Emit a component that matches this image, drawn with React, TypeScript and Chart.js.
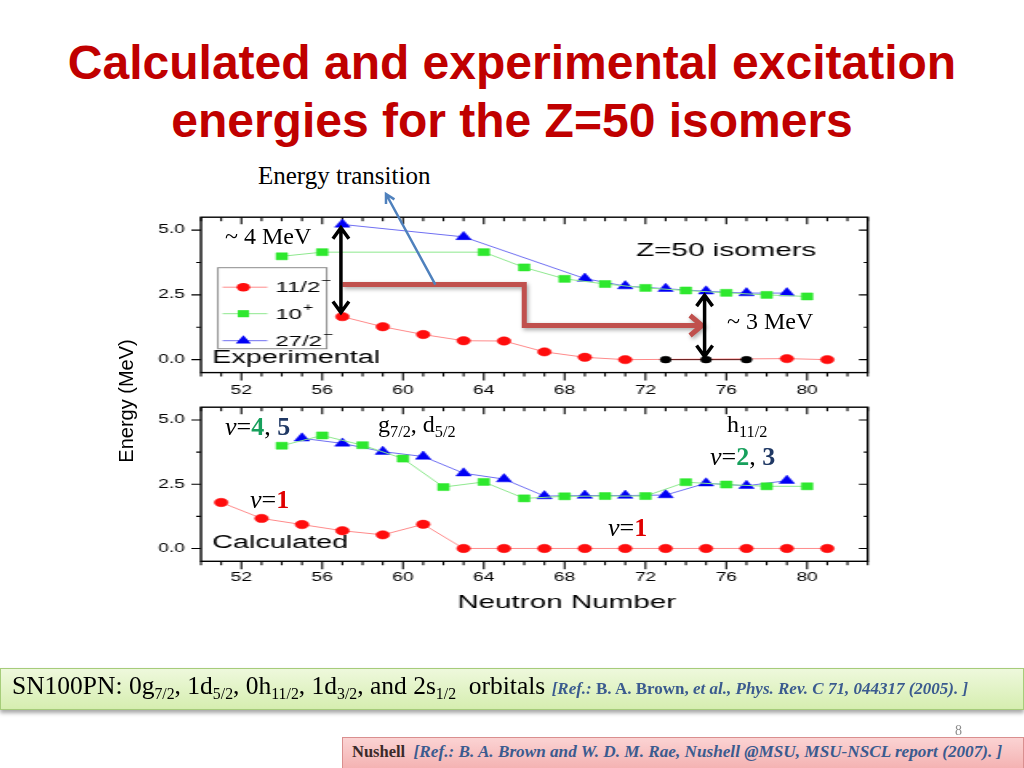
import React, { useEffect, useRef } from 'react';
import { Chart, registerables } from 'chart.js';
Chart.register(...registerables);

// ---------- data ----------
// Experimental
const expN_11 = [57, 59, 61, 63, 65, 67, 69, 71, 79, 81];
const expE_11 = [1.66, 1.27, 0.97, 0.73, 0.72, 0.3, 0.09, 0.0, 0.04, 0.0];
const expN_gs = [73, 75, 77];
const expE_gs = [0.0, 0.0, 0.0];
const expN_10 = [54, 56, 64, 66, 68, 70, 72, 74, 76, 78, 80];
const expE_10 = [3.99, 4.15, 4.15, 3.56, 3.12, 2.92, 2.77, 2.67, 2.58, 2.5, 2.44];
const expN_27 = [57, 63, 69, 71, 73, 75, 77, 79];
const expE_27 = [5.22, 4.74, 3.13, 2.84, 2.74, 2.64, 2.57, 2.57];
// Calculated
const calN_11 = [51, 53, 55, 57, 59, 61, 63, 65, 67, 69, 71, 73, 75, 77, 79, 81];
const calE_11 = [1.79, 1.17, 0.93, 0.69, 0.53, 0.94, 0, 0, 0, 0, 0, 0, 0, 0, 0, 0];
const calN_10 = [54, 56, 58, 60, 62, 64, 66, 68, 70, 72, 74, 76, 78, 80];
const calE_10 = [4.0, 4.4, 4.02, 3.5, 2.39, 2.59, 1.95, 2.03, 2.04, 2.04, 2.58, 2.49, 2.42, 2.42];
const calN_27 = [55, 57, 59, 61, 63, 65, 67, 69, 71, 73, 75, 77, 79];
const calE_27 = [4.29, 4.09, 3.77, 3.58, 2.93, 2.7, 2.04, 2.06, 2.06, 2.08, 2.54, 2.44, 2.64];

const xTicks = [52, 56, 60, 64, 68, 72, 76, 80];
const xMinorTicks = [50, 51, 52, 53, 54, 55, 56, 57, 58, 59, 60, 61, 62, 63, 64, 65, 66, 67, 68, 69, 70, 71, 72, 73, 74, 75, 76, 77, 78, 79, 80, 81, 82, 83];
const yTicks = [0, 2.5, 5.0];
const yMinorTicks = [0, 1.25, 2.5, 3.75, 5.0];
const legendLabels: [string, string][] = [['11/2', '\u2212'], ['10', '+'], ['27/2', '\u2212']];
const xAxisTitle = 'Neutron Number';

// annotation anchors (data coordinates of the top panel)
const arrow4 = { n: 57, from: 5.13, to: 1.78 };
const arrow3 = { n: 75, from: 2.53, to: 0.08 };
const stepN = [57, 66, 66, 74.8];
const stepE = [2.9, 2.9, 1.32, 1.32];
const pointerStart = { n: 61.6, e: 2.9 };

// ---------- styling ----------
const S = 1.6; // horizontal stretch of the embedded chart picture
const SANS = "'Liberation Sans', Arial, Helvetica, sans-serif";
const SERIF = "'Liberation Serif', 'Times New Roman', Times, serif";

const TOP = { left: 121, top: 200, w: 490, h: 200, yAxisW: 50, padTop: 12.7, padRight: 23.3, xAxisH: 27.4, tickPad: 10.5 };
const BOT = { left: 121, top: 390, w: 490, h: 240, yAxisW: 50, padTop: 11.7, padRight: 23.3, xAxisH: 68.7, tickPad: 9 };

const ST: Record<string, { line: string; fill: string; shape: string; r: number }> = {
  red: { line: '#ff8a8a', fill: '#ff0d0d', shape: 'circle', r: 4.2 },
  black: { line: '#5a1010', fill: '#000000', shape: 'circle', r: 3.4 },
  green: { line: '#8ee88e', fill: '#2ee82e', shape: 'rect', r: 5 },
  blue: { line: '#6f6ff2', fill: '#0000f5', shape: 'triangle', r: 5.5 },
};

function pts(xs: number[], ys: number[]) {
  return xs.map((x, i) => ({ x, y: ys[i] }));
}
function series(label: string, xs: number[], ys: number[], kind: string) {
  const st = ST[kind];
  return {
    label,
    data: pts(xs, ys),
    borderColor: st.line,
    borderWidth: 1,
    pointStyle: st.shape,
    pointRadius: st.r,
    pointBackgroundColor: st.fill,
    pointBorderColor: st.fill,
    pointBorderWidth: 0.5,
    tension: 0,
    fill: false,
    clip: false,
    _kind: kind,
  } as any;
}

function drawMarker(ctx: CanvasRenderingContext2D, kind: string, x: number, y: number) {
  const st = ST[kind];
  const r = st.r;
  ctx.fillStyle = st.fill;
  ctx.beginPath();
  if (st.shape === 'circle') ctx.arc(x, y, r, 0, Math.PI * 2);
  else if (st.shape === 'rect') {
    const h = r * Math.SQRT1_2;
    ctx.rect(x - h, y - h, 2 * h, 2 * h);
  } else {
    const a = (2 * Math.PI) / 3;
    ctx.moveTo(x, y - r);
    ctx.lineTo(x + r * Math.sin(a), y - r * Math.cos(a));
    ctx.lineTo(x + r * Math.sin(2 * a), y - r * Math.cos(2 * a));
    ctx.closePath();
  }
  ctx.fill();
}

const framePlugin = {
  id: 'frame',
  beforeDatasetsDraw(chart: any) {
    const { ctx, chartArea: a, scales } = chart;
    const x = scales.x, y = scales.y;
    ctx.save();
    ctx.strokeStyle = '#000';
    ctx.lineWidth = 1.4;
    ctx.strokeRect(a.left, a.top, a.right - a.left, a.bottom - a.top);
    ctx.lineWidth = 1.1;
    ctx.beginPath();
    for (const n of xMinorTicks) {
      const px = x.getPixelForValue(n);
      const major = xTicks.includes(n);
      ctx.moveTo(px, a.bottom);
      ctx.lineTo(px, a.bottom + (major ? 8 : 4));
      ctx.moveTo(px, a.top);
      ctx.lineTo(px, a.top + (major ? 7 : 4));
    }
    for (const v of yMinorTicks) {
      const py = y.getPixelForValue(v);
      const major = yTicks.includes(v);
      ctx.moveTo(a.left, py);
      ctx.lineTo(a.left - (major ? 6 : 3), py);
      ctx.moveTo(a.right, py);
      ctx.lineTo(a.right - (major ? 5.5 : 2.5), py);
    }
    ctx.stroke();
    ctx.restore();
  },
  afterDatasetsDraw(chart: any, _args: any, opts: any) {
    const { ctx, chartArea: a, scales } = chart;
    ctx.save();
    ctx.fillStyle = '#000';
    ctx.textBaseline = 'middle';
    ctx.textAlign = 'left';
    ctx.font = `18px ${SANS}`;
    ctx.fillText(opts.label, a.left + 7, a.bottom - opts.labelDy);
    if (opts.note) {
      ctx.textAlign = 'center';
      ctx.font = `18.5px ${SANS}`;
      ctx.fillText(opts.note, scales.x.getPixelForValue(76), scales.y.getPixelForValue(4.2));
    }
    if (opts.axisTitle) {
      ctx.textAlign = 'center';
      ctx.font = `18.5px ${SANS}`;
      ctx.fillText(opts.axisTitle, scales.x.getPixelForValue(68.1), a.bottom + 41.5);
    }
    if (opts.legend) {
      const bx = a.left + 10.6, by = a.top + 50.5, bw = 68, bh = 81;
      ctx.strokeStyle = '#8c8c8c';
      ctx.lineWidth = 1;
      ctx.strokeRect(bx, by, bw, bh);
      const rows = [a.top + 70, a.top + 96.5, a.top + 123.5];
      const dss = chart.data.datasets.filter((d: any) => d._kind !== 'black');
      dss.forEach((ds: any, i: number) => {
        const yy = rows[i];
        ctx.strokeStyle = ds.borderColor;
        ctx.lineWidth = 1;
        ctx.beginPath();
        ctx.moveTo(a.left + 13.5, yy);
        ctx.lineTo(a.left + 41.5, yy);
        ctx.stroke();
        drawMarker(ctx, ds._kind, a.left + 26.5, yy);
        ctx.fillStyle = '#000';
        ctx.textAlign = 'left';
        ctx.font = `15px ${SANS}`;
        const [base, sup] = legendLabels[i];
        const tx = a.left + 46.5;
        ctx.fillText(base, tx, yy + 1);
        const w = ctx.measureText(base).width;
        ctx.font = `11px ${SANS}`;
        ctx.fillText(sup, tx + w + 0.5, yy - 6);
      });
    }
    ctx.restore();
  },
};

function makeConfig(datasets: any[], g: any, frame: any): any {
  return {
    type: 'line',
    data: { datasets },
    options: {
      animation: false,
      responsive: false,
      maintainAspectRatio: false,
      devicePixelRatio: 1,
      events: [],
      layout: { padding: { top: g.padTop, right: g.padRight, left: 0, bottom: 0 } },
      plugins: { legend: { display: false }, tooltip: { enabled: false }, frame },
      scales: {
        x: {
          type: 'linear',
          min: 50,
          max: 83,
          grid: { display: false, drawTicks: false, tickLength: 0 },
          border: { display: false },
          afterBuildTicks: (s: any) => {
            s.ticks = xTicks.map((v) => ({ value: v }));
          },
          afterFit: (s: any) => {
            s.height = g.xAxisH;
          },
          ticks: {
            font: { family: SANS, size: 12 },
            color: '#000',
            padding: g.tickPad,
            maxRotation: 0,
            autoSkip: false,
            callback: (v: any) => String(v),
          },
        },
        y: {
          type: 'linear',
          min: -0.5,
          max: 5.5,
          grid: { display: false, drawTicks: false, tickLength: 0 },
          border: { display: false },
          afterBuildTicks: (s: any) => {
            s.ticks = yTicks.map((v) => ({ value: v }));
          },
          afterFit: (s: any) => {
            s.width = g.yAxisW;
          },
          ticks: {
            font: { family: SANS, size: 12 },
            color: '#000',
            padding: 10,
            callback: (v: any) => Number(v).toFixed(1),
          },
        },
      },
    },
    plugins: [framePlugin],
  };
}

function drawOverlay(cv: HTMLCanvasElement, chart: any) {
  const ctx = cv.getContext('2d')!;
  ctx.clearRect(0, 0, cv.width, cv.height);
  const X = (v: number) => TOP.left + chart.scales.x.getPixelForValue(v) * S;
  const Y = (v: number) => TOP.top + chart.scales.y.getPixelForValue(v);

  // red step arrow
  ctx.save();
  ctx.shadowColor = 'rgba(0,0,0,0.35)';
  ctx.shadowBlur = 4;
  ctx.shadowOffsetX = 1.5;
  ctx.shadowOffsetY = 2;
  ctx.strokeStyle = '#c0504d';
  ctx.lineWidth = 5;
  ctx.lineJoin = 'miter';
  ctx.beginPath();
  stepN.forEach((n, i) => (i ? ctx.lineTo(X(n), Y(stepE[i])) : ctx.moveTo(X(n), Y(stepE[i]))));
  const ex = X(stepN[stepN.length - 1]), ey = Y(stepE[stepE.length - 1]);
  ctx.moveTo(ex - 12, ey - 10);
  ctx.lineTo(ex, ey);
  ctx.lineTo(ex - 12, ey + 10);
  ctx.stroke();
  ctx.restore();

  // blue pointer to "Energy transition"
  ctx.save();
  ctx.strokeStyle = '#4f81bd';
  ctx.lineWidth = 2.5;
  const sx = X(pointerStart.n), sy = Y(pointerStart.e);
  const tx = 386, ty = 194;
  ctx.beginPath();
  ctx.moveTo(sx, sy);
  ctx.lineTo(tx, ty);
  const ang = Math.atan2(ty - sy, tx - sx);
  const hl = 10;
  ctx.moveTo(tx - hl * Math.cos(ang - 0.5), ty - hl * Math.sin(ang - 0.5));
  ctx.lineTo(tx, ty);
  ctx.lineTo(tx - hl * Math.cos(ang + 0.5), ty - hl * Math.sin(ang + 0.5));
  ctx.stroke();
  ctx.restore();

  // black double arrows
  const dbl = (n: number, e1: number, e2: number) => {
    const x = X(n) - 1.5, y1 = Y(e1), y2 = Y(e2);
    ctx.beginPath();
    ctx.moveTo(x, y1 + 1);
    ctx.lineTo(x, y2 - 1);
    ctx.moveTo(x - 8, y1 + 12);
    ctx.lineTo(x, y1 + 1);
    ctx.lineTo(x + 8, y1 + 12);
    ctx.moveTo(x - 8, y2 - 12);
    ctx.lineTo(x, y2 - 1);
    ctx.lineTo(x + 8, y2 - 12);
    ctx.stroke();
  };
  ctx.save();
  ctx.strokeStyle = '#000';
  ctx.lineWidth = 3.5;
  ctx.lineJoin = 'miter';
  dbl(arrow4.n, arrow4.from, arrow4.to);
  dbl(arrow3.n, arrow3.from, arrow3.to);
  ctx.restore();
}

const abs = (left: number, top: number, extra: React.CSSProperties = {}): React.CSSProperties => ({
  position: 'absolute',
  left,
  top,
  whiteSpace: 'nowrap',
  ...extra,
});
const sub: React.CSSProperties = { fontSize: '0.62em', position: 'relative', top: '0.32em' };
const sub2: React.CSSProperties = { fontSize: '0.68em', position: 'relative', top: '0.3em' };
const GREEN = '#17a05c';
const NAVY = '#1f3864';
const RED = '#e00000';

function Nu({ a, b, ca, cb }: { a: string; b?: string; ca: string; cb?: string }) {
  return (
    <span>
      <i>v</i>=<b style={{ color: ca }}>{a}</b>
      {b ? (
        <>
          , <b style={{ color: cb }}>{b}</b>
        </>
      ) : null}
    </span>
  );
}

const nuStyle: React.CSSProperties = { fontFamily: SERIF, fontSize: 26, lineHeight: '31px' };
const orbStyle: React.CSSProperties = { fontFamily: SERIF, fontSize: 24, lineHeight: '28.8px' };

export default function App() {
  const topRef = useRef<HTMLCanvasElement>(null);
  const botRef = useRef<HTMLCanvasElement>(null);
  const ovRef = useRef<HTMLCanvasElement>(null);

  useEffect(() => {
    const c1 = new Chart(
      topRef.current!,
      makeConfig(
        [
          series('g.s.', expN_gs, expE_gs, 'black'),
          series('11/2-', expN_11, expE_11, 'red'),
          series('10+', expN_10, expE_10, 'green'),
          series('27/2-', expN_27, expE_27, 'blue'),
        ],
        TOP,
        { label: 'Experimental', labelDy: 14.8, legend: true, note: 'Z=50 isomers' }
      )
    );
    const c2 = new Chart(
      botRef.current!,
      makeConfig(
        [
          series('11/2-', calN_11, calE_11, 'red'),
          series('10+', calN_10, calE_10, 'green'),
          series('27/2-', calN_27, calE_27, 'blue'),
        ],
        BOT,
        { label: 'Calculated', labelDy: 18.5, legend: false, axisTitle: xAxisTitle }
      )
    );
    drawOverlay(ovRef.current!, c1);
    return () => {
      c1.destroy();
      c2.destroy();
    };
  }, []);

  return (
    <div style={{ position: 'absolute', left: 0, top: 0, width: 1024, height: 768, overflow: 'hidden', background: '#fff' }}>
      {/* title */}
      <div
        style={{
          position: 'absolute',
          left: 0,
          top: 34,
          width: 1024,
          textAlign: 'center',
          color: '#c00000',
          fontFamily: SANS,
          fontWeight: 'bold',
          fontSize: 48,
          lineHeight: '57.6px',
        }}
      >
        Calculated and experimental excitation
        <br />
        energies for the Z=50 isomers
      </div>

      <div style={abs(258, 161, { fontFamily: SERIF, fontSize: 25, lineHeight: '30px', color: '#000' })}>Energy transition</div>

      <canvas
        ref={topRef}
        width={TOP.w}
        height={TOP.h}
        style={{ position: 'absolute', left: TOP.left, top: TOP.top, width: TOP.w * S, height: TOP.h }}
      />
      <canvas
        ref={botRef}
        width={BOT.w}
        height={BOT.h}
        style={{ position: 'absolute', left: BOT.left, top: BOT.top, width: BOT.w * S, height: BOT.h }}
      />

      {/* shared y axis title */}
      <div
        style={{
          position: 'absolute',
          left: 126,
          top: 401,
          transform: 'translate(-50%, -50%) rotate(-90deg)',
          whiteSpace: 'nowrap',
          fontFamily: SANS,
          fontSize: 20,
          color: '#000',
        }}
      >
        Energy (MeV)
      </div>

      <canvas ref={ovRef} width={1024} height={768} style={{ position: 'absolute', left: 0, top: 0, width: 1024, height: 768, pointerEvents: 'none' }} />

      {/* slide annotations */}
      <div style={abs(225, 222, { fontFamily: SERIF, fontSize: 24, lineHeight: '28.8px' })}>~ 4 MeV</div>
      <div style={abs(727, 307, { fontFamily: SERIF, fontSize: 24, lineHeight: '28.8px' })}>~ 3 MeV</div>

      <div style={abs(225, 411, nuStyle)}>
        <Nu a="4" b="5" ca={GREEN} cb={NAVY} />
      </div>
      <div style={abs(378, 410, orbStyle)}>
        g<span style={sub2}>7/2</span>, d<span style={sub2}>5/2</span>
      </div>
      <div style={abs(727, 410, orbStyle)}>
        h<span style={sub2}>11/2</span>
      </div>
      <div style={abs(710, 441, nuStyle)}>
        <Nu a="2" b="3" ca={GREEN} cb={NAVY} />
      </div>
      <div style={abs(250, 484, nuStyle)}>
        <Nu a="1" ca={RED} />
      </div>
      <div style={abs(608, 512, nuStyle)}>
        <Nu a="1" ca={RED} />
      </div>

      {/* green reference box */}
      <div
        style={{
          position: 'absolute',
          left: 0,
          top: 668,
          width: 1022,
          height: 40,
          border: '1px solid #a6cc7a',
          background: 'linear-gradient(#eef8dc, #d6eeb0)',
          boxShadow: '0 3px 4px rgba(0,0,0,0.35)',
        }}
      />
      <div style={abs(12, 671, { fontFamily: SERIF, fontSize: 25.5, lineHeight: '30px', color: '#000' })}>
        SN100PN: 0g<span style={sub}>7/2</span>, 1d<span style={sub}>5/2</span>, 0h<span style={sub}>11/2</span>, 1d
        <span style={sub}>3/2</span>, and 2s<span style={sub}>1/2</span> &nbsp;orbitals{' '}
        <span style={{ fontSize: 17, fontWeight: 'bold', color: '#3b5b8f' }}>
          <i>[Ref.:</i> B. A. Brown, <i>et al., Phys. Rev. C 71, 044317 (2005). ]</i>
        </span>
      </div>

      <div style={abs(955, 723, { fontFamily: SERIF, fontSize: 14, lineHeight: '16px', color: '#8c8c8c' })}>8</div>

      {/* pink reference box */}
      <div
        style={{
          position: 'absolute',
          left: 342,
          top: 737,
          width: 680,
          height: 40,
          border: '1px solid #d98f8f',
          background: 'linear-gradient(#fbd3d3, #f2a8a8)',
        }}
      />
      <div style={abs(352, 742, { fontFamily: SERIF, fontSize: 16.5, lineHeight: '20px', fontWeight: 'bold' })}>
        <span style={{ color: '#3a2a2a' }}>Nushell</span>{' '}
        <i style={{ color: '#3b5b8f', fontSize: 17.2 }}>&nbsp;[Ref.: B. A. Brown and W. D. M. Rae, Nushell @MSU, MSU-NSCL report (2007). ]</i>
      </div>
    </div>
  );
}
